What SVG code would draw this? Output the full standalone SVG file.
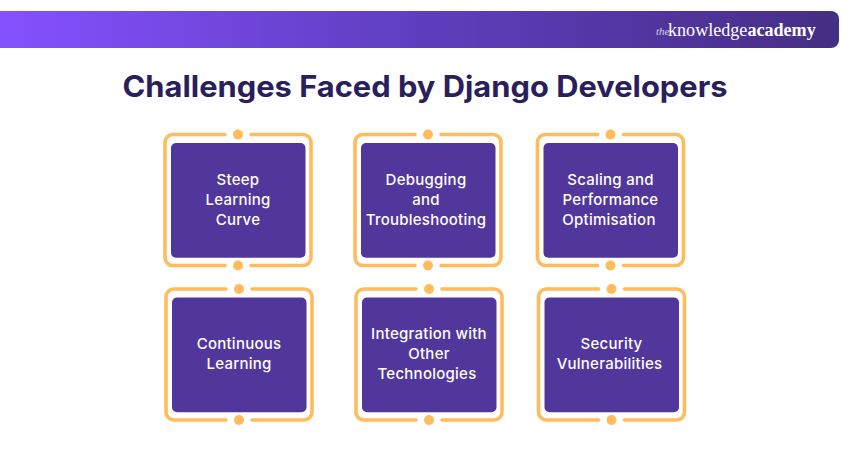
<svg xmlns="http://www.w3.org/2000/svg" width="850" height="450" viewBox="0 0 850 450">
<style>
.frame{fill:none;stroke:#ffbb5c;stroke-width:3.6;stroke-linecap:round}
.dot{fill:#ffbb5c}
.box{fill:#51369b}
.label{font-family:"Inter","Liberation Sans",sans-serif;font-size:15px;font-weight:500;letter-spacing:0.25px;fill:#fff;text-anchor:middle}
.title{font-family:"Inter","Liberation Sans",sans-serif;font-size:29.5px;font-weight:700;fill:#2a1f5c;text-anchor:middle}
.logo{font-family:"Liberation Serif",serif;fill:#fff}
</style>
<defs>
<linearGradient id="bar" x1="0" y1="0" x2="1" y2="0"><stop offset="0" stop-color="#8650ff"/><stop offset="0.45" stop-color="#6240c4"/><stop offset="1" stop-color="#452e85"/></linearGradient>
<g id="card">
<path class="frame" d="M-13,-65.5H-65a8,8 0 0 0 -8,8V57.500a8,8 0 0 0 8,8H-13M13,-65.5H65a8,8 0 0 1 8,8V57.500a8,8 0 0 1 -8,8H13"/>
<circle class="dot" cx="0" cy="-65.5" r="5"/>
<circle class="dot" cx="0" cy="65.5" r="5"/>
<rect class="box" x="-67" y="-57" width="134.5" height="114.700" rx="5"/>
</g>
</defs>
<g id="header">
<path d="M0,11H831a8,8 0 0 1 8,8V40a8,8 0 0 1 -8,8H0Z" fill="url(#bar)"/>
<text class="logo" x="656" y="35" font-size="11" font-style="italic" opacity="0.75">the</text>
<text class="logo" x="668" y="35.500" font-size="18.100">knowledge<tspan font-weight="700">academy</tspan></text>
</g>
<text id="title" class="title" x="425" y="97" textLength="605" lengthAdjust="spacingAndGlyphs">Challenges Faced by Django Developers</text>
<g id="node-1"><use href="#card" x="238" y="200"/><text class="label"><tspan x="238" y="185">Steep</tspan><tspan x="238" y="205">Learning</tspan><tspan x="238" y="225">Curve</tspan></text></g>
<g id="node-2"><use href="#card" x="428" y="200"/><text class="label"><tspan x="426" y="185">Debugging</tspan><tspan x="426" y="205">and</tspan><tspan x="426" y="225">Troubleshooting</tspan></text></g>
<g id="node-3"><use href="#card" x="610.500" y="200"/><text class="label"><tspan x="610.500" y="185">Scaling and</tspan><tspan x="610.500" y="205">Performance</tspan><tspan x="609" y="225">Optimisation</tspan></text></g>
<g id="node-4"><use href="#card" x="239" y="354.500"/><text class="label"><tspan x="239" y="349">Continuous</tspan><tspan x="239" y="369">Learning</tspan></text></g>
<g id="node-5"><use href="#card" x="429" y="354.500"/><text class="label"><tspan x="429" y="339">Integration with</tspan><tspan x="429" y="359">Other</tspan><tspan x="427" y="379">Technologies</tspan></text></g>
<g id="node-6"><use href="#card" x="611.500" y="354.500"/><text class="label"><tspan x="611.500" y="349">Security</tspan><tspan x="609.500" y="369">Vulnerabilities</tspan></text></g>
</svg>
